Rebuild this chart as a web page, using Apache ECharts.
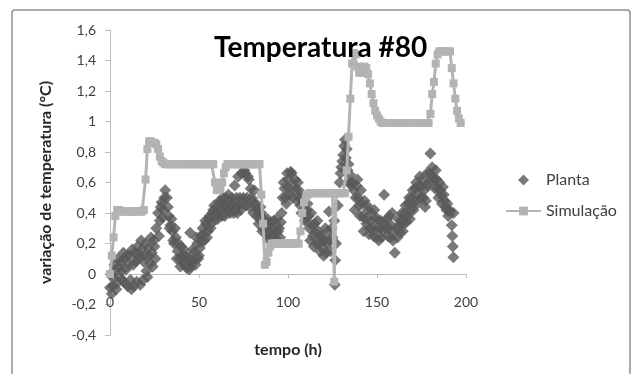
<!DOCTYPE html>
<html>
<head>
<meta charset="utf-8">
<script src="https://cdn.jsdelivr.net/npm/echarts@6/dist/echarts.min.js"></script>
<style>
  html, body { margin: 0; padding: 0; background: #fff; }
  #chart { width: 636px; height: 374px; }
</style>
</head>
<body>
<div id="chart"></div>
<script>
// Planta (measured): hourly readings, then the half-hour readings
const plantTime = [
  0, 1, 2, 3, 4, 5, 6, 7, 8, 9, 10, 11, 12, 13, 14, 15, 16, 17, 18, 19,
  20, 21, 22, 23, 24, 25, 26, 27, 28, 29, 30, 31, 32, 33, 34, 35, 36, 37, 38, 39,
  40, 41, 42, 43, 44, 45, 45.5, 46, 47, 48, 49, 50, 51, 52, 53, 54, 55, 56, 57, 58,
  59, 60, 61, 62, 63, 64, 65, 66, 67, 68, 69, 70, 71, 72, 73, 74, 75, 76, 77, 78,
  79, 80, 81, 82, 83, 84, 85, 86, 87, 88, 89, 90, 91, 92, 93, 94, 95, 96, 97, 98,
  99, 100, 101, 102, 103, 104, 105, 106, 107, 108, 109, 110, 111, 112, 113, 114, 115, 116, 117, 118,
  119, 120, 121, 122, 123, 124, 125, 126, 126.3, 126.5, 127, 128, 129, 130, 131, 132, 133, 134, 135, 136,
  137, 138, 139, 140, 141, 142, 143, 144, 145, 146, 147, 148, 149, 150, 151, 152, 153, 154, 155, 156,
  157, 158, 159, 160, 161, 162, 163, 164, 165, 166, 167, 168, 169, 170, 171, 172, 173, 174, 175, 176,
  177, 178, 179, 180, 181, 182, 183, 184, 185, 186, 187, 188, 189, 190, 191, 192, 192.3, 192.6, 192.9, 193,
  0.5, 1.5, 2.5, 3.5, 4.5, 5.5, 6.5, 7.5, 8.5, 9.5, 10.5, 11.5, 12.5, 13.5, 14.5, 15.5, 16.5, 17.5, 18.5, 19.5,
  20.5, 21.5, 22.5, 23.5, 24.5, 25.5, 27.5, 28.5, 29.5, 30.5, 32.5, 33.5, 34.5, 35.5, 36.5, 37.5, 38.5, 39.5, 40.5, 41.5,
  42.5, 43.5, 44.5, 46.5, 47.5, 48.5, 49.5, 50.5, 51.5, 52.5, 53.5, 54.5, 55.5, 56.5, 57.5, 58.5, 59.5, 60.5, 61.5, 62.5,
  63.5, 64.5, 65.5, 66.5, 67.5, 68.5, 69.5, 70.5, 71.5, 72.5, 73.5, 74.5, 75.5, 76.5, 77.5, 78.5, 79.5, 80.5, 81.5, 82.5,
  83.5, 84.5, 85.5, 86.5, 87.5, 88.5, 89.5, 90.5, 91.5, 92.5, 93.5, 94.5, 95.5, 96.5, 97.5, 98.5, 99.5, 100.5, 101.5, 102.5,
  104.5, 105.5, 106.5, 107.5, 108.5, 109.5, 110.5, 111.5, 112.5, 113.5, 114.5, 115.5, 116.5, 117.5, 118.5, 119.5, 120.5, 121.5, 122.5, 123.5,
  124.5, 129.5, 130.5, 131.5, 132.5, 133.5, 134.5, 135.5, 137.5, 138.5, 139.5, 140.5, 141.5, 142.5, 143.5, 144.5, 145.5, 146.5, 147.5, 148.5,
  149.5, 150.5, 151.5, 152.5, 153.5, 155.5, 156.5, 157.5, 158.5, 159.5, 161.5, 162.5, 163.5, 164.5, 165.5, 166.5, 167.5, 168.5, 169.5, 170.5,
  171.5, 172.5, 173.5, 174.5, 175.5, 176.5, 177.5, 178.5, 179.5, 181.5, 182.5, 183.5, 184.5, 185.5, 186.5, 187.5, 188.5, 189.5, 190.5
];
const plantValue = [
  -0.09, -0.13, -0.03, 0.02, -0.06, 0.05, 0.08, -0.04, 0.10, 0.03, -0.08, 0.12, -0.10, 0.06, 0.14, -0.05, 0.10, -0.07, 0.16, 0.08,
  0.20, -0.02, 0.12, 0.24, 0.05, 0.18, 0.30, 0.40, 0.35, 0.47, 0.42, 0.55, 0.50, 0.38, 0.32, 0.28, 0.20, 0.24, 0.15, 0.10,
  0.18, 0.07, 0.12, 0.04, 0.09, 0.27, 0.05, 0.08, 0.14, 0.06, 0.20, 0.12, 0.25, 0.30, 0.22, 0.33, 0.28, 0.38, 0.33, 0.42,
  0.36, 0.44, 0.40, 0.47, 0.38, 0.45, 0.50, 0.42, 0.48, 0.45, 0.46, 0.58, 0.50, 0.64, 0.50, 0.66, 0.50, 0.66, 0.50, 0.62,
  0.56, 0.48, 0.55, 0.46, 0.42, 0.36, 0.40, 0.30, 0.34, 0.26, 0.32, 0.24, 0.30, 0.35, 0.27, 0.22, 0.30, 0.34, 0.50, 0.56,
  0.46, 0.62, 0.52, 0.66, 0.58, 0.62, 0.48, 0.55, 0.45, 0.50, 0.42, 0.36, 0.46, 0.30, 0.40, 0.25, 0.33, 0.20, 0.28, 0.15,
  0.24, 0.12, 0.30, 0.20, 0.41, 0.15, 0.24, 0.35, -0.07, 0.09, 0.20, 0.45, 0.60, 0.70, 0.78, 0.88, 0.82, 0.72, 0.65, 0.60,
  0.55, 0.50, 0.62, 0.45, 0.55, 0.38, 0.48, 0.33, 0.42, 0.30, 0.40, 0.25, 0.36, 0.30, 0.22, 0.35, 0.28, 0.52, 0.30, 0.25,
  0.38, 0.32, 0.22, 0.14, 0.30, 0.36, 0.27, 0.40, 0.33, 0.45, 0.38, 0.50, 0.42, 0.55, 0.47, 0.60, 0.52, 0.64, 0.57, 0.50,
  0.44, 0.66, 0.60, 0.79, 0.70, 0.62, 0.68, 0.56, 0.60, 0.52, 0.57, 0.48, 0.42, 0.38, 0.41, 0.32, 0.25, 0.18, 0.11, 0.40,
  0.00, -0.08, 0.06, -0.10, 0.10, -0.02, 0.02, 0.14, -0.06, 0.12, 0.06, -0.04, 0.16, -0.08, 0.08, 0.18, 0.13, 0.22, -0.04, 0.12,
  0.02, 0.17, 0.07, 0.14, 0.22, 0.10, 0.25, 0.44, 0.37, 0.50, 0.44, 0.30, 0.36, 0.22, 0.30, 0.10, 0.20, 0.05, 0.12, 0.16,
  0.06, 0.11, 0.03, 0.16, 0.09, 0.24, 0.10, 0.17, 0.21, 0.26, 0.35, 0.24, 0.36, 0.30, 0.40, 0.45, 0.40, 0.36, 0.48, 0.42,
  0.50, 0.38, 0.44, 0.52, 0.40, 0.50, 0.40, 0.44, 0.40, 0.45, 0.42, 0.46, 0.68, 0.45, 0.64, 0.44, 0.50, 0.40, 0.45, 0.38,
  0.33, 0.44, 0.28, 0.36, 0.28, 0.36, 0.22, 0.34, 0.25, 0.30, 0.36, 0.28, 0.24, 0.40, 0.60, 0.50, 0.66, 0.56, 0.67, 0.50,
  0.55, 0.60, 0.50, 0.40, 0.47, 0.35, 0.42, 0.38, 0.22, 0.32, 0.18, 0.27, 0.35, 0.20, 0.25, 0.17, 0.22, 0.14, 0.28, 0.22,
  0.30, 0.66, 0.74, 0.84, 0.76, 0.68, 0.60, 0.58, 0.42, 0.58, 0.50, 0.38, 0.46, 0.28, 0.36, 0.45, 0.26, 0.35, 0.30, 0.42,
  0.24, 0.36, 0.30, 0.24, 0.34, 0.36, 0.30, 0.24, 0.40, 0.28, 0.24, 0.32, 0.35, 0.28, 0.40, 0.34, 0.46, 0.36, 0.50, 0.42,
  0.56, 0.46, 0.58, 0.50, 0.62, 0.55, 0.48, 0.58, 0.66, 0.64, 0.56, 0.62, 0.50, 0.55, 0.46, 0.52, 0.44, 0.46, 0.42
];

// Simulação
const simTime = [
  0, 1, 2, 3, 4, 5, 6, 7, 8, 9, 10, 11, 12, 13, 14, 15, 16, 17, 18, 19,
  20, 21, 22, 23, 24, 25, 26, 27, 28, 29, 30, 31, 32, 33, 34, 35, 36, 37, 38, 39,
  40, 41, 42, 43, 44, 45, 46, 47, 48, 49, 50, 51, 52, 53, 54, 55, 56, 57, 58, 59,
  60, 61, 62, 63, 64, 65, 66, 67, 68, 69, 70, 71, 72, 73, 74, 75, 76, 77, 78, 79,
  80, 81, 82, 83, 84, 85, 86, 87, 88, 89, 90, 91, 92, 93, 94, 95, 96, 97, 98, 99,
  100, 101, 102, 103, 104, 105, 106, 107, 108, 109, 110, 111, 112, 113, 114, 115, 116, 117, 118, 119,
  120, 121, 122, 123, 124, 125, 126, 127, 128, 129, 130, 131, 132, 133, 134, 135, 136, 137, 138, 139,
  140, 141, 142, 143, 144, 145, 146, 147, 148, 149, 150, 151, 152, 153, 154, 155, 156, 157, 158, 159,
  160, 161, 162, 163, 164, 165, 166, 167, 168, 169, 170, 171, 172, 173, 174, 175, 176, 177, 178, 179,
  180, 181, 182, 183, 184, 185, 186, 187, 188, 189, 190, 191, 192, 193, 194, 195, 196, 197
];
const simValue = [
  0, 0.12, 0.24, 0.38, 0.42, 0.42, 0.41, 0.41, 0.41, 0.41, 0.41, 0.41, 0.41, 0.41, 0.41, 0.41, 0.41, 0.41, 0.41, 0.42,
  0.62, 0.82, 0.87, 0.87, 0.86, 0.86, 0.85, 0.82, 0.77, 0.74, 0.73, 0.72, 0.72, 0.72, 0.72, 0.72, 0.72, 0.72, 0.72, 0.72,
  0.72, 0.72, 0.72, 0.72, 0.72, 0.72, 0.72, 0.72, 0.72, 0.72, 0.72, 0.72, 0.72, 0.72, 0.72, 0.72, 0.72, 0.72, 0.72, 0.60,
  0.55, 0.55, 0.56, 0.60, 0.66, 0.70, 0.72, 0.72, 0.72, 0.72, 0.72, 0.72, 0.72, 0.72, 0.72, 0.72, 0.72, 0.72, 0.72, 0.72,
  0.72, 0.72, 0.72, 0.72, 0.72, 0.52, 0.33, 0.06, 0.08, 0.14, 0.18, 0.20, 0.20, 0.20, 0.20, 0.20, 0.20, 0.20, 0.20, 0.20,
  0.20, 0.20, 0.20, 0.20, 0.20, 0.20, 0.20, 0.28, 0.40, 0.47, 0.50, 0.52, 0.53, 0.53, 0.53, 0.53, 0.53, 0.53, 0.53, 0.53,
  0.53, 0.53, 0.53, 0.53, 0.53, 0.53, -0.05, 0.53, 0.53, 0.53, 0.53, 0.53, 0.53, 0.68, 0.90, 1.15, 1.38, 1.45, 1.44, 1.36,
  1.32, 1.32, 1.34, 1.36, 1.35, 1.31, 1.25, 1.18, 1.12, 1.07, 1.04, 1.02, 1.00, 0.99, 0.99, 0.99, 0.99, 0.99, 0.99, 0.99,
  0.99, 0.99, 0.99, 0.99, 0.99, 0.99, 0.99, 0.99, 0.99, 0.99, 0.99, 0.99, 0.99, 0.99, 0.99, 0.99, 0.99, 0.99, 0.99, 0.99,
  1.05, 1.18, 1.26, 1.38, 1.44, 1.46, 1.46, 1.46, 1.46, 1.46, 1.46, 1.46, 1.35, 1.25, 1.15, 1.07, 1.02, 0.99
];

const FONT = 'Lato';

const chart = echarts.init(document.getElementById('chart'), null, { renderer: 'canvas' });

const option = {
  animation: false,
  backgroundColor: '#fff',
  title: {
    text: 'Temperatura #80',
    left: 209,
    top: 29,
    textStyle: { fontFamily: FONT, fontWeight: 'bold', fontSize: 28, color: '#000' }
  },
  legend: {
    orient: 'vertical',
    left: 505,
    top: 172,
    padding: 0,
    itemWidth: 35,
    itemHeight: 11,
    itemGap: 15,
    symbolKeepAspect: true,
    textStyle: { fontFamily: FONT, fontSize: 16, color: '#404040' },
    data: [
      { name: 'Planta', icon: 'path://M0,-1L1,0L0,1L-1,0Z' },
      { name: 'Simulação' }
    ]
  },
  grid: { left: 110, top: 30, width: 356, height: 305, outerBoundsMode: 'none' },
  xAxis: {
    type: 'value',
    min: 0,
    max: 200,
    interval: 50,
    position: 'bottom',
    // axis drawn on the zero line of the y axis (y = 0 sits 61px above the grid bottom)
    offset: -61,
    name: 'tempo (h)',
    nameLocation: 'middle',
    nameGap: 68,
    nameTextStyle: { fontFamily: FONT, fontWeight: 'bold', fontSize: 16, color: '#262626' },
    axisLine: { show: true, onZero: false, lineStyle: { color: '#bcbcbc', width: 1 } },
    axisTick: { show: true, length: 4, lineStyle: { color: '#bcbcbc' } },
    axisLabel: { margin: 21, fontFamily: FONT, fontSize: 14, color: '#404040' },
    splitLine: { show: false }
  },
  yAxis: {
    type: 'value',
    min: -0.4,
    max: 1.6,
    interval: 0.2,
    name: 'variação de temperatura (°C)',
    nameLocation: 'middle',
    nameGap: 56,
    nameTextStyle: { fontFamily: FONT, fontWeight: 'bold', fontSize: 16, color: '#262626' },
    axisLine: { show: true, onZero: false, lineStyle: { color: '#bcbcbc', width: 1 } },
    axisTick: { show: true, length: 5, lineStyle: { color: '#bcbcbc' } },
    axisLabel: {
      margin: 14,
      fontFamily: FONT,
      fontSize: 14,
      color: '#404040',
      formatter: v => String(Math.round(v * 10) / 10).replace('.', ',')
    },
    splitLine: { show: false }
  },
  series: [
    {
      name: 'Planta',
      type: 'scatter',
      symbol: 'diamond',
      symbolSize: 12,
      itemStyle: { color: '#595959' },
      data: plantTime.map((t, i) => [t, plantValue[i]])
    },
    {
      name: 'Simulação',
      type: 'line',
      symbol: 'rect',
      symbolSize: 8,
      showAllSymbol: true,
      lineStyle: { color: '#b3b3b3', width: 3 },
      itemStyle: { color: '#b3b3b3' },
      data: simTime.map((t, i) => [t, simValue[i]])
    }
  ],
  graphic: [
    {
      type: 'rect',
      silent: true,
      shape: { x: 12, y: 10, width: 618, height: 380, r: 3 },
      style: { fill: 'none', stroke: '#8f8f8f', lineWidth: 1.5 }
    }
  ]
};

chart.setOption(option);
</script>
</body>
</html>
